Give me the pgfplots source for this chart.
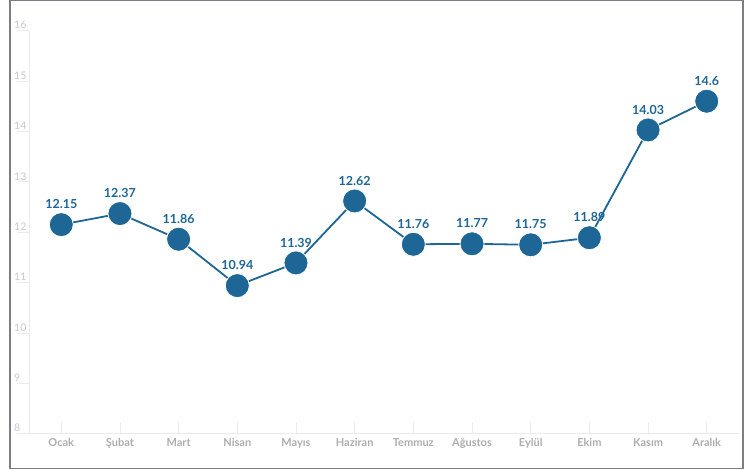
\documentclass[border=0pt]{standalone}
\usepackage{fontspec}
\setmainfont{Lato}
\usepackage{pgfplots}
\pgfplotsset{compat=1.18}
\definecolor{mblue}{HTML}{1D6696}
\definecolor{lblue}{HTML}{1D6696}
\definecolor{xlab}{HTML}{ADADAD}
\definecolor{ylab}{HTML}{C8C8C8}
\definecolor{axl}{HTML}{EBEBEB}
\definecolor{frame}{HTML}{7D7B8C}
\begin{document}
\begin{tikzpicture}[x=1pt,y=1pt]
\path (0,0) rectangle (755,469);
\draw[frame, line width=1.4pt] (10,1.5) rectangle (743,469);
\begin{axis}[
  at={(29pt,36pt)}, anchor=south west,
  scale only axis, width=710pt, height=403pt,
  xmin=-0.55, xmax=11.55, ymin=8, ymax=16,
  axis lines*=left,
  axis line style={axl, line width=0.8pt, -},
  xtick={0,...,11},
  xticklabels={Ocak,Şubat,Mart,Nisan,Mayıs,Haziran,Temmuz,Ağustos,Eylül,Ekim,Kasım,Aralık},
  xticklabel style={font=\fontsize{11}{13}\selectfont\bfseries, text=xlab, yshift=-1pt},
  x tick style={axl, line width=0.8pt},
  xtick align=inside, 
  ytick={8,...,16},
  ytick align=outside,
  major tick length=12pt,
  y tick style={axl, line width=0.8pt},
  yticklabel style={font=\fontsize{10.5}{12}\selectfont, text=ylab, anchor=south west, inner sep=1pt, xshift=-4pt, yshift=0.5pt},
  /pgf/number format/assume math mode=true,
  clip=false,
  nodes near coords,
  every node near coord/.append style={font=\fontsize{12.5}{14}\selectfont\bfseries, text=lblue, yshift=12pt},
  point meta=explicit symbolic,
]
\addplot[mblue, line width=1.8pt, mark=*, mark size=12pt, mark options={fill=mblue, draw=white, line width=0.8pt}]
 coordinates {
 (0,12.15) [12.15]
 (1,12.37) [12.37]
 (2,11.86) [11.86]
 (3,10.94) [10.94]
 (4,11.39) [11.39]
 (5,12.62) [12.62]
 (6,11.76) [11.76]
 (7,11.77) [11.77]
 (8,11.75) [11.75]
 (9,11.89) [11.89]
 (10,14.03) [14.03]
 (11,14.6) [14.6]
 };
\end{axis}
\end{tikzpicture}
\end{document}
